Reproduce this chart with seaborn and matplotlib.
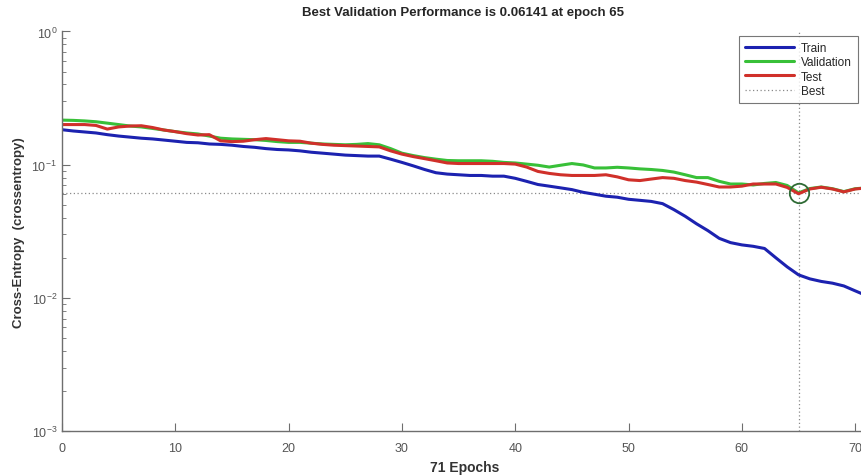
import matplotlib
matplotlib.use("Agg")
import matplotlib.pyplot as plt
from matplotlib.lines import Line2D
from matplotlib.ticker import LogLocator, NullFormatter
import pandas as pd
import seaborn as sns

# --- data ------------------------------------------------------------------
EPOCHS = list(range(72))

TRAIN = [
    0.183, 0.179, 0.176, 0.173, 0.168, 0.164, 0.161, 0.158, 0.156, 0.153,
    0.150, 0.147, 0.146, 0.143, 0.142, 0.140, 0.137, 0.135, 0.132, 0.130,
    0.129, 0.127, 0.124, 0.122, 0.120, 0.118, 0.117, 0.116, 0.116, 0.110,
    0.104, 0.098, 0.092, 0.087, 0.085, 0.084, 0.083, 0.083, 0.082, 0.082,
    0.079, 0.075, 0.071, 0.069, 0.067, 0.065, 0.062, 0.060, 0.058, 0.057,
    0.055, 0.054, 0.053, 0.051, 0.046, 0.041, 0.036, 0.032, 0.028, 0.026,
    0.025, 0.0244, 0.0235, 0.020, 0.0171, 0.0149, 0.0139, 0.0133, 0.0129, 0.0123,
    0.0113, 0.0104,
]

VALIDATION = [
    0.216, 0.215, 0.213, 0.210, 0.205, 0.200, 0.195, 0.192, 0.187, 0.182,
    0.177, 0.173, 0.170, 0.164, 0.158, 0.156, 0.155, 0.154, 0.152, 0.149,
    0.147, 0.147, 0.145, 0.143, 0.142, 0.141, 0.142, 0.144, 0.141, 0.132,
    0.122, 0.117, 0.113, 0.110, 0.1075, 0.107, 0.107, 0.107, 0.106, 0.104,
    0.103, 0.101, 0.099, 0.096, 0.099, 0.102, 0.0995, 0.0945, 0.0945, 0.0956,
    0.0945, 0.093, 0.092, 0.0905, 0.088, 0.084, 0.080, 0.080, 0.075, 0.0716,
    0.0716, 0.0704, 0.0723, 0.0735, 0.0698, 0.06141, 0.0662, 0.068, 0.066, 0.0628,
    0.066, 0.067,
]

TEST = [
    0.200, 0.200, 0.200, 0.197, 0.185, 0.192, 0.195, 0.196, 0.190, 0.182,
    0.177, 0.171, 0.167, 0.168, 0.151, 0.149, 0.150, 0.154, 0.157, 0.154,
    0.151, 0.150, 0.145, 0.142, 0.140, 0.139, 0.138, 0.137, 0.136, 0.127,
    0.120, 0.115, 0.111, 0.107, 0.103, 0.102, 0.102, 0.102, 0.102, 0.102,
    0.101, 0.096, 0.089, 0.086, 0.084, 0.083, 0.083, 0.083, 0.084, 0.081,
    0.077, 0.076, 0.078, 0.080, 0.079, 0.076, 0.074, 0.071, 0.068, 0.068,
    0.069, 0.0716, 0.0716, 0.0716, 0.0675, 0.0605, 0.0657, 0.0677, 0.0657, 0.0625,
    0.0657, 0.0669,
]

BEST_EPOCH = 65
BEST_PERF = 0.06141

SERIES = ["Train", "Validation", "Test"]
COLORS = {"Train": "#1c22b0", "Validation": "#38c038", "Test": "#d0302a"}

# --- style -------------------------------------------------------------------
sns.set_theme(style="white")
plt.rcParams["font.family"] = ["Liberation Sans", "DejaVu Sans"]

df = pd.DataFrame({
    "epoch": EPOCHS * 3,
    "perf": TRAIN + VALIDATION + TEST,
    "set": [s for s in SERIES for _ in EPOCHS],
})

fig = plt.figure(figsize=(8.61, 4.77), dpi=100)
ax_w = 0.9344
ax = fig.add_axes([0.072, 0.094, ax_w, 0.838])

sns.lineplot(
    data=df, x="epoch", y="perf", hue="set", hue_order=SERIES,
    palette=COLORS, linewidth=2.2, ax=ax, legend=False,
)

best_kw = dict(color="#8a8a8a", linestyle=(0, (1, 2)), linewidth=0.9, zorder=1)
ax.axhline(BEST_PERF, **best_kw)
ax.axvline(BEST_EPOCH, **best_kw)
ax.plot(
    [BEST_EPOCH], [BEST_PERF], marker="o", markersize=14, markerfacecolor="none",
    markeredgecolor="#2f6b35", markeredgewidth=1.3, linestyle="none", zorder=5,
)

ax.set_yscale("log")
ax.set_ylim(1e-3, 1e0)
ax.set_xlim(0, 71)
ax.set_xticks(range(0, 71, 10))
ax.yaxis.set_minor_locator(LogLocator(base=10, subs=range(2, 10)))
ax.yaxis.set_minor_formatter(NullFormatter())

for side in ["top", "right"]:
    ax.spines[side].set_visible(False)
for side in ["left", "bottom"]:
    ax.spines[side].set_color("#6e6e6e")
    ax.spines[side].set_linewidth(1.0)

ax.tick_params(axis="both", which="major", direction="in", length=6, width=0.8,
               colors="#6e6e6e", labelcolor="#555555", labelsize=9,
               left=True, bottom=True)
ax.tick_params(axis="x", which="major", pad=8)
ax.tick_params(axis="y", which="minor", direction="in", length=3, width=0.6,
               colors="#6e6e6e", left=True)

ax.set_title("Best Validation Performance is 0.06141 at epoch 65",
             fontsize=9.5, fontweight="bold", pad=12, x=(463 - 62) / (ax_w * 861))
ax.set_xlabel("71 Epochs", fontsize=10, fontweight="bold", color="#333333", labelpad=4)
ax.set_ylabel("Cross-Entropy  (crossentropy)", fontsize=9.5, fontweight="bold",
              color="#333333", labelpad=5)

handles = [Line2D([], [], color=COLORS[s], linewidth=2.2) for s in SERIES]
handles.append(Line2D([], [], color="#8a8a8a", linestyle=(0, (1, 2)), linewidth=0.9))
leg = ax.legend(
    handles, SERIES + ["Best"], loc="upper right",
    bbox_to_anchor=(858 / 861, 1 - 37 / 477), bbox_transform=fig.transFigure,
    borderaxespad=0, fontsize=8.5, frameon=True, fancybox=False,
    handlelength=4.2, labelspacing=0.2, borderpad=0.5, handletextpad=0.6,
)
leg.get_frame().set_edgecolor("#555555")
leg.get_frame().set_linewidth(0.8)

fig.savefig("out.png", dpi=100)
